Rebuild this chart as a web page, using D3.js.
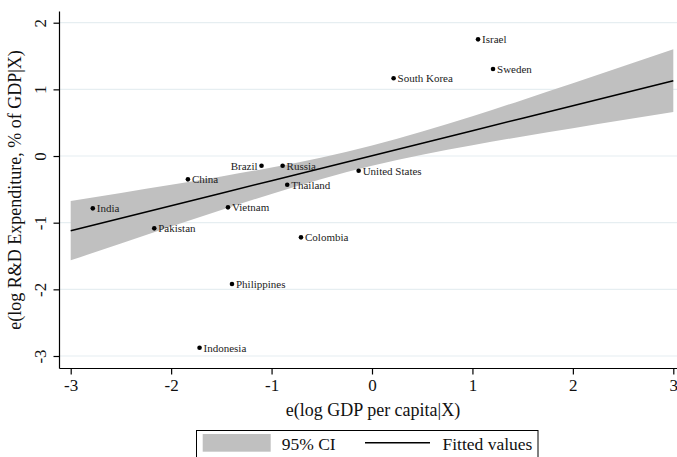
<!DOCTYPE html>
<html>
<head>
<meta charset="utf-8">
<script src="https://cdn.jsdelivr.net/npm/d3@7"></script>
<style>
  html, body { margin: 0; padding: 0; background: #fff; }
  svg { display: block; font-family: "Liberation Serif", "Times New Roman", serif; }
</style>
</head>
<body>
<svg id="chart" width="677" height="457"></svg>
<script>
// Added-variable plot: residual log R&D spending vs residual log GDP per capita
const countries = ["Israel", "Sweden", "South Korea", "United States", "Brazil", "Russia", "China",
  "Thailand", "India", "Vietnam", "Pakistan", "Colombia", "Philippines", "Indonesia"];
const gdpResid = [1.056, 1.205, 0.215, -0.133, -1.10, -0.89, -1.833,
  -0.844, -2.78, -1.434, -2.168, -0.707, -1.394, -1.717];
const rdResid = [1.75, 1.305, 1.166, -0.22, -0.145, -0.145, -0.35,
  -0.43, -0.785, -0.77, -1.085, -1.22, -1.92, -2.876];
// label side: "left" puts the name before the dot
const labelSide = ["right", "right", "right", "right", "left", "right", "right",
  "right", "right", "right", "right", "right", "right", "right"];

// fitted values and 95% confidence band
const fitX = [-3, -2.5, -2, -1.5, -1, -0.5, 0, 0.5, 1, 1.5, 2, 2.5, 3];
const fitY = [-1.12, -0.933, -0.745, -0.558, -0.37, -0.183, 0.005, 0.193, 0.38, 0.568, 0.755, 0.943, 1.13];
const ciHigh = [-0.675, -0.555, -0.432, -0.306, -0.171, -0.022, 0.156, 0.366, 0.597, 0.842, 1.092, 1.345, 1.60];
const ciLow = [-1.565, -1.311, -1.058, -0.81, -0.569, -0.344, -0.146, 0.02, 0.163, 0.294, 0.418, 0.541, 0.66];

const xTicks = [-3, -2, -1, 0, 1, 2, 3];
const yTicks = [-3, -2, -1, 0, 1, 2];
const legendLabels = ["95% CI", "Fitted values"];

const svg = d3.select("#chart");
const x = d3.scaleLinear().domain([-3, 3]).range([70.7, 673.3]);
const y = d3.scaleLinear().domain([-3, 2]).range([356, 22.7]);
const axisLeftX = 59.5, axisBottomY = 368.5;
const plainInt = d => String(d);   // hyphen-minus labels, e.g. "-3"

// horizontal grid
svg.append("g").selectAll("line").data(yTicks).join("line")
  .attr("x1", axisLeftX).attr("x2", 677)
  .attr("y1", d => y(d)).attr("y2", d => y(d))
  .attr("stroke", "#e6eef1").attr("stroke-width", 1.2);

// confidence band
const band = fitX.map((v, i) => ({ x: v, lo: ciLow[i], hi: ciHigh[i] }));
svg.append("path").datum(band)
  .attr("fill", "#c0c0c0")
  .attr("d", d3.area().x(d => x(d.x)).y0(d => y(d.lo)).y1(d => y(d.hi)).curve(d3.curveMonotoneX));

// fitted line
svg.append("path").datum(fitX.map((v, i) => ({ x: v, y: fitY[i] })))
  .attr("fill", "none").attr("stroke", "#000").attr("stroke-width", 1.5)
  .attr("d", d3.line().x(d => x(d.x)).y(d => y(d.y)));

// points with labels
const pts = countries.map((c, i) => ({ name: c, gx: gdpResid[i], ry: rdResid[i], side: labelSide[i] }));
const pg = svg.append("g");
pg.selectAll("circle").data(pts).join("circle")
  .attr("cx", d => x(d.gx)).attr("cy", d => y(d.ry)).attr("r", 2.3).attr("fill", "#000");
pg.selectAll("text").data(pts).join("text")
  .attr("x", d => x(d.gx) + (d.side === "left" ? -4 : 4))
  .attr("y", d => y(d.ry))
  .attr("dy", "0.35em")
  .attr("text-anchor", d => d.side === "left" ? "end" : "start")
  .attr("font-size", 11).attr("fill", "#222")
  .text(d => d.name);

// axes
const xAxis = svg.append("g").attr("transform", `translate(0,${axisBottomY})`)
  .call(d3.axisBottom(x).tickValues(xTicks).tickSize(6).tickPadding(4).tickFormat(plainInt));
xAxis.select(".domain").attr("d", `M${axisLeftX},0H677`);
const yAxis = svg.append("g").attr("transform", `translate(${axisLeftX},0)`)
  .call(d3.axisLeft(y).tickValues(yTicks).tickSize(6).tickPadding(4).tickFormat(plainInt));
yAxis.select(".domain").attr("d", `M0,11.5V${axisBottomY}`);
[xAxis, yAxis].forEach(a => {
  a.selectAll("path, line").attr("stroke", "#000").attr("stroke-width", 1.2);
  a.selectAll("text").attr("font-family", "Liberation Serif").attr("font-size", 17).attr("fill", "#111");
});
yAxis.selectAll(".tick text")
  .attr("text-anchor", "middle").attr("x", null).attr("dy", null)
  .attr("transform", "translate(-19,0) rotate(-90)")
  .attr("y", 0).attr("dominant-baseline", "central");

// axis titles
svg.append("text").attr("x", 373).attr("y", 416).attr("text-anchor", "middle")
  .attr("font-size", 18).attr("fill", "#111").text("e(log GDP per capita|X)");
svg.append("text").attr("transform", "translate(21,190) rotate(-90)")
  .attr("text-anchor", "middle").attr("font-size", 18).attr("fill", "#111")
  .text("e(log R&D Expenditure, % of GDP|X)");

// legend
const lg = svg.append("g");
lg.append("rect").attr("x", 196.5).attr("y", 430.5).attr("width", 341.5).attr("height", 40)
  .attr("fill", "#fff").attr("stroke", "#000").attr("stroke-width", 1);
lg.append("rect").attr("x", 202.7).attr("y", 434).attr("width", 68).attr("height", 17.7).attr("fill", "#c0c0c0");
lg.append("text").attr("x", 281.7).attr("y", 450).attr("font-size", 17.5).attr("fill", "#111").text(legendLabels[0]);
lg.append("line").attr("x1", 365).attr("x2", 430).attr("y1", 442.7).attr("y2", 442.7)
  .attr("stroke", "#000").attr("stroke-width", 1.5);
lg.append("text").attr("x", 442.5).attr("y", 450).attr("font-size", 17.5).attr("fill", "#111").text(legendLabels[1]);
</script>
</body>
</html>
